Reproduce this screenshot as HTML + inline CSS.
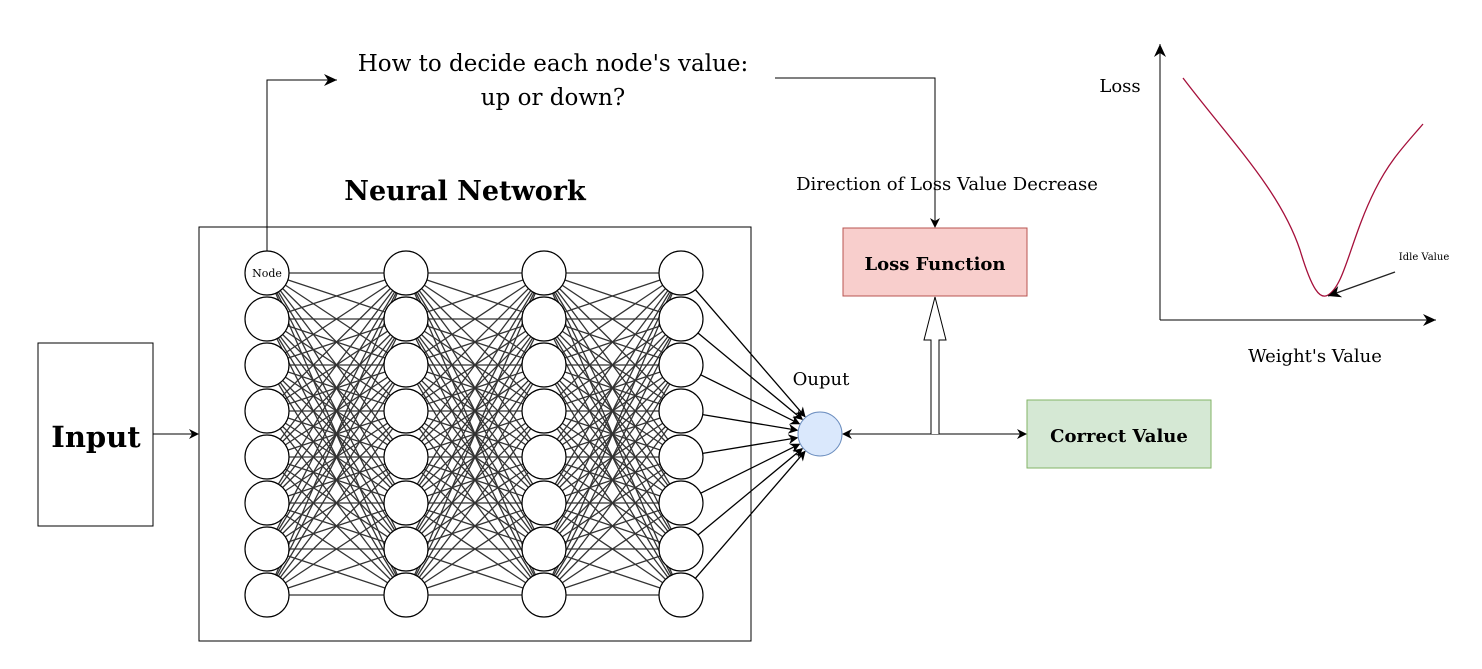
<!DOCTYPE html>
<html><head><style>
body{margin:0;background:#fff;}
svg{display:block;font-family:"DejaVu Serif","Liberation Serif",serif;}
</style></head><body>
<svg id="s" width="1482" height="669" viewBox="0 0 1482 669" xmlns="http://www.w3.org/2000/svg">
<defs>
<marker id="a" markerWidth="14" markerHeight="14" refX="13" refY="6" orient="auto" markerUnits="userSpaceOnUse"><path d="M0,0 L13,6 L0,12 L4,6 z" fill="#000"/></marker>
<marker id="b" markerWidth="10" markerHeight="10" refX="9" refY="5" orient="auto" markerUnits="userSpaceOnUse"><path d="M0,0 L10,5 L0,10 L3,5 z" fill="#000"/></marker>
</defs>
<rect x="38" y="343" width="115" height="183" fill="#fff" stroke="#000"/>
<text x="96" y="447" font-size="29" font-weight="bold" text-anchor="middle">Input</text>
<line x1="153" y1="434" x2="198" y2="434" stroke="#000" marker-end="url(#b)"/>
<rect x="199" y="227" width="552" height="414" fill="#fff" stroke="#000"/>
<text x="465" y="200" font-size="27" font-weight="bold" text-anchor="middle">Neural Network</text>
<g id="lines" stroke="#333" stroke-width="1.3"></g>
<g id="nodes" fill="#fff" stroke="#000" stroke-width="1.2"></g>
<text x="267" y="277" font-size="11" text-anchor="middle">Node</text>
<polyline points="267,251 267,80 337,80" fill="none" stroke="#000" marker-end="url(#a)"/>
<text x="553" y="71" font-size="23" text-anchor="middle">How to decide each node's value:</text>
<text x="553" y="105" font-size="23" text-anchor="middle">up or down?</text>
<polyline points="775,78 935,78 935,227" fill="none" stroke="#000" marker-end="url(#b)"/>
<text x="947" y="190" font-size="18" text-anchor="middle">Direction of Loss Value Decrease</text>
<rect x="843" y="228" width="184" height="68" fill="#f8cecc" stroke="#b85450"/>
<text x="935" y="270" font-size="18" font-weight="bold" text-anchor="middle">Loss Function</text>
<rect x="1027" y="400" width="184" height="68" fill="#d5e8d4" stroke="#82b366"/>
<text x="1119" y="442" font-size="18" font-weight="bold" text-anchor="middle">Correct Value</text>
<text x="821" y="385" font-size="18" text-anchor="middle">Ouput</text>
<line x1="935" y1="434" x2="1026" y2="434" stroke="#000" marker-end="url(#b)"/>
<line x1="935" y1="434" x2="843" y2="434" stroke="#000" marker-end="url(#b)"/>
<path d="M931,434 L931,340 L924,340 L935,297 L946,340 L939,340 L939,434" fill="#fff" stroke="#000"/>
<circle cx="820" cy="434" r="22" fill="#dae8fc" stroke="#6c8ebf"/>
<line x1="1160" y1="320" x2="1160" y2="44" stroke="#000" marker-end="url(#a)"/>
<line x1="1160" y1="320" x2="1436" y2="320" stroke="#000" marker-end="url(#a)"/>
<text x="1120" y="92" font-size="18" text-anchor="middle">Loss</text>
<text x="1315" y="362" font-size="18" text-anchor="middle">Weight's Value</text>
<path d="M1183,78 C1230,140 1280,190 1300,250 C1312,290 1320,300 1328,295 C1345,285 1350,240 1375,190 C1390,160 1405,145 1423,124" fill="none" stroke="#a50f3a" stroke-width="1.3"/>
<line x1="1395" y1="272" x2="1328" y2="296" stroke="#222" stroke-width="1.3" marker-end="url(#a)"/>
<text x="1424" y="260" font-size="10" text-anchor="middle">Idle Value</text>
</svg>
<script>
var xs=[267,406,544,681],ys=[];for(var i=0;i<8;i++)ys.push(273+46*i);
var L=document.getElementById('lines'),N=document.getElementById('nodes'),ns="http://www.w3.org/2000/svg";
function el(p,t,a){var e=document.createElementNS(ns,t);for(var k in a)e.setAttribute(k,a[k]);p.appendChild(e);return e;}
for(var c=0;c<3;c++)for(var i=0;i<8;i++)for(var j=0;j<8;j++)el(L,'line',{x1:xs[c],y1:ys[i],x2:xs[c+1],y2:ys[j]});
for(var i=0;i<8;i++){var dx=820-xs[3],dy=434-ys[i],d=Math.sqrt(dx*dx+dy*dy);
el(L,'line',{x1:xs[3]+dx/d*22,y1:ys[i]+dy/d*22,x2:820-dx/d*23,y2:434-dy/d*23,stroke:'#000','marker-end':'url(#b)'});}
for(var c=0;c<4;c++)for(var i=0;i<8;i++)el(N,'circle',{cx:xs[c],cy:ys[i],r:22});
</script>
</body></html>
